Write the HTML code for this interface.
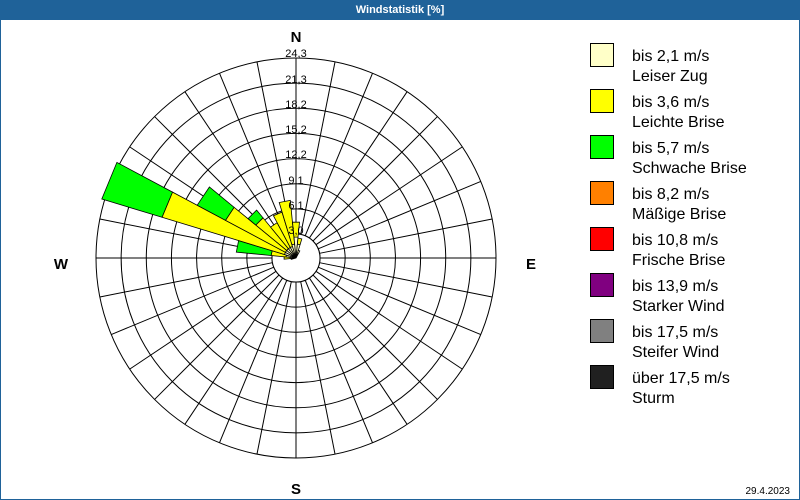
<!DOCTYPE html>
<html><head><meta charset="utf-8"><style>
html,body{margin:0;padding:0;background:#fff}
#c{position:relative;width:800px;height:500px;overflow:hidden;font-family:"Liberation Sans","DejaVu Sans",sans-serif}
#bar{position:absolute;left:0;top:0;width:800px;height:20px;background:#1f6299;color:#fff;font-weight:bold;font-size:11px;text-align:center;line-height:20px}
#frame{position:absolute;left:0;top:20px;width:798px;height:479px;border:1px solid #1f6299;border-top:none}
svg{position:absolute;left:0;top:0}
</style></head><body><div id="c">
<div id="bar">Windstatistik [%]</div><div id="frame"></div>
<svg id="s" width="800" height="500" xmlns="http://www.w3.org/2000/svg" font-family="Liberation Sans, DejaVu Sans, sans-serif">
<g id="grid" stroke="#000" stroke-width="1" fill="none"></g>
<g id="w" stroke="#000" stroke-width="0.8"></g>
<g font-size="11" fill="#000" text-anchor="middle">
<text x="296" y="57">24,3</text><text x="296" y="83">21,3</text><text x="296" y="108">18,2</text><text x="296" y="133">15,2</text>
<text x="296" y="158">12,2</text><text x="296" y="184">9,1</text><text x="296" y="209">6,1</text><text x="296" y="234">3,0</text>
</g>
<g font-size="15" font-weight="bold" text-anchor="middle">
<text x="296" y="42">N</text><text x="296" y="494">S</text><text x="61" y="269">W</text><text x="531" y="269">E</text>
</g>
<g font-size="16" fill="#000">
<rect x="590.5" y="43.5" width="23" height="23" fill="#ffffc8" stroke="#000"/><text x="632" y="61">bis 2,1 m/s</text><text x="632" y="81">Leiser Zug</text>
<rect x="590.5" y="89.5" width="23" height="23" fill="#ffff00" stroke="#000"/><text x="632" y="107">bis 3,6 m/s</text><text x="632" y="127">Leichte Brise</text>
<rect x="590.5" y="135.5" width="23" height="23" fill="#00ff00" stroke="#000"/><text x="632" y="153">bis 5,7 m/s</text><text x="632" y="173">Schwache Brise</text>
<rect x="590.5" y="181.5" width="23" height="23" fill="#ff8000" stroke="#000"/><text x="632" y="199">bis 8,2 m/s</text><text x="632" y="219">Mäßige Brise</text>
<rect x="590.5" y="227.5" width="23" height="23" fill="#ff0000" stroke="#000"/><text x="632" y="245">bis 10,8 m/s</text><text x="632" y="265">Frische Brise</text>
<rect x="590.5" y="273.5" width="23" height="23" fill="#800080" stroke="#000"/><text x="632" y="291">bis 13,9 m/s</text><text x="632" y="311">Starker Wind</text>
<rect x="590.5" y="319.5" width="23" height="23" fill="#808080" stroke="#000"/><text x="632" y="337">bis 17,5 m/s</text><text x="632" y="357">Steifer Wind</text>
<rect x="590.5" y="365.5" width="23" height="23" fill="#202020" stroke="#000"/><text x="632" y="383">über 17,5 m/s</text><text x="632" y="403">Sturm</text>
</g>
<text x="790" y="494" font-size="10" text-anchor="end">29.4.2023</text>
</svg>
<script>
var cx=296,cy=258,R=200,r0=24,ns="http://www.w3.org/2000/svg";
var g=document.getElementById('grid'),w=document.getElementById('w');
function el(p,t,a){var e=document.createElementNS(ns,t);for(var k in a)e.setAttribute(k,a[k]);p.appendChild(e);return e;}
for(var i=0;i<8;i++){el(g,'circle',{cx:cx,cy:cy,r:r0+i*(R-r0)/7})}
for(var k=0;k<32;k++){var a=k*11.25;if(a%90==0)continue;var t=a*Math.PI/180;
el(g,'line',{x1:cx+r0*Math.sin(t),y1:cy-r0*Math.cos(t),x2:cx+R*Math.sin(t),y2:cy-R*Math.cos(t)});}
el(g,'line',{x1:cx-R,y1:cy,x2:cx+R,y2:cy});el(g,'line',{x1:cx,y1:cy-R,x2:cx,y2:cy+R});
el(g,'circle',{cx:cx,cy:cy,r:r0,fill:'#fff'});
function pt(b,r){var t=b*Math.PI/180;return (cx+r*Math.sin(t)).toFixed(1)+','+(cy-r*Math.cos(t)).toFixed(1);}
function seg(b,a,c,col){var h=5.6;el(w,'polygon',{points:[pt(b-h,a),pt(b-h,c),pt(b+h,c),pt(b+h,a)].join(' '),fill:col});}
var cols=['#ffffc8','#ffff00','#00ff00'];
var data=[[281.25,[10,25,60]],[292.5,[12,140,203]],[303.75,[12,80,112]],[315,[12,52,62]],[326.25,[12,40]],[337.5,[12,48]],[348.75,[14,58]],[0,[21,36]],[11.25,[14,20]],[22.5,[8]],[270,[6,12]],[258.75,[5]]];
data.forEach(function(d){var p=0;d[1].forEach(function(v,i){seg(d[0],p,v,cols[i]);p=v;});});
</script>
</div></body></html>
